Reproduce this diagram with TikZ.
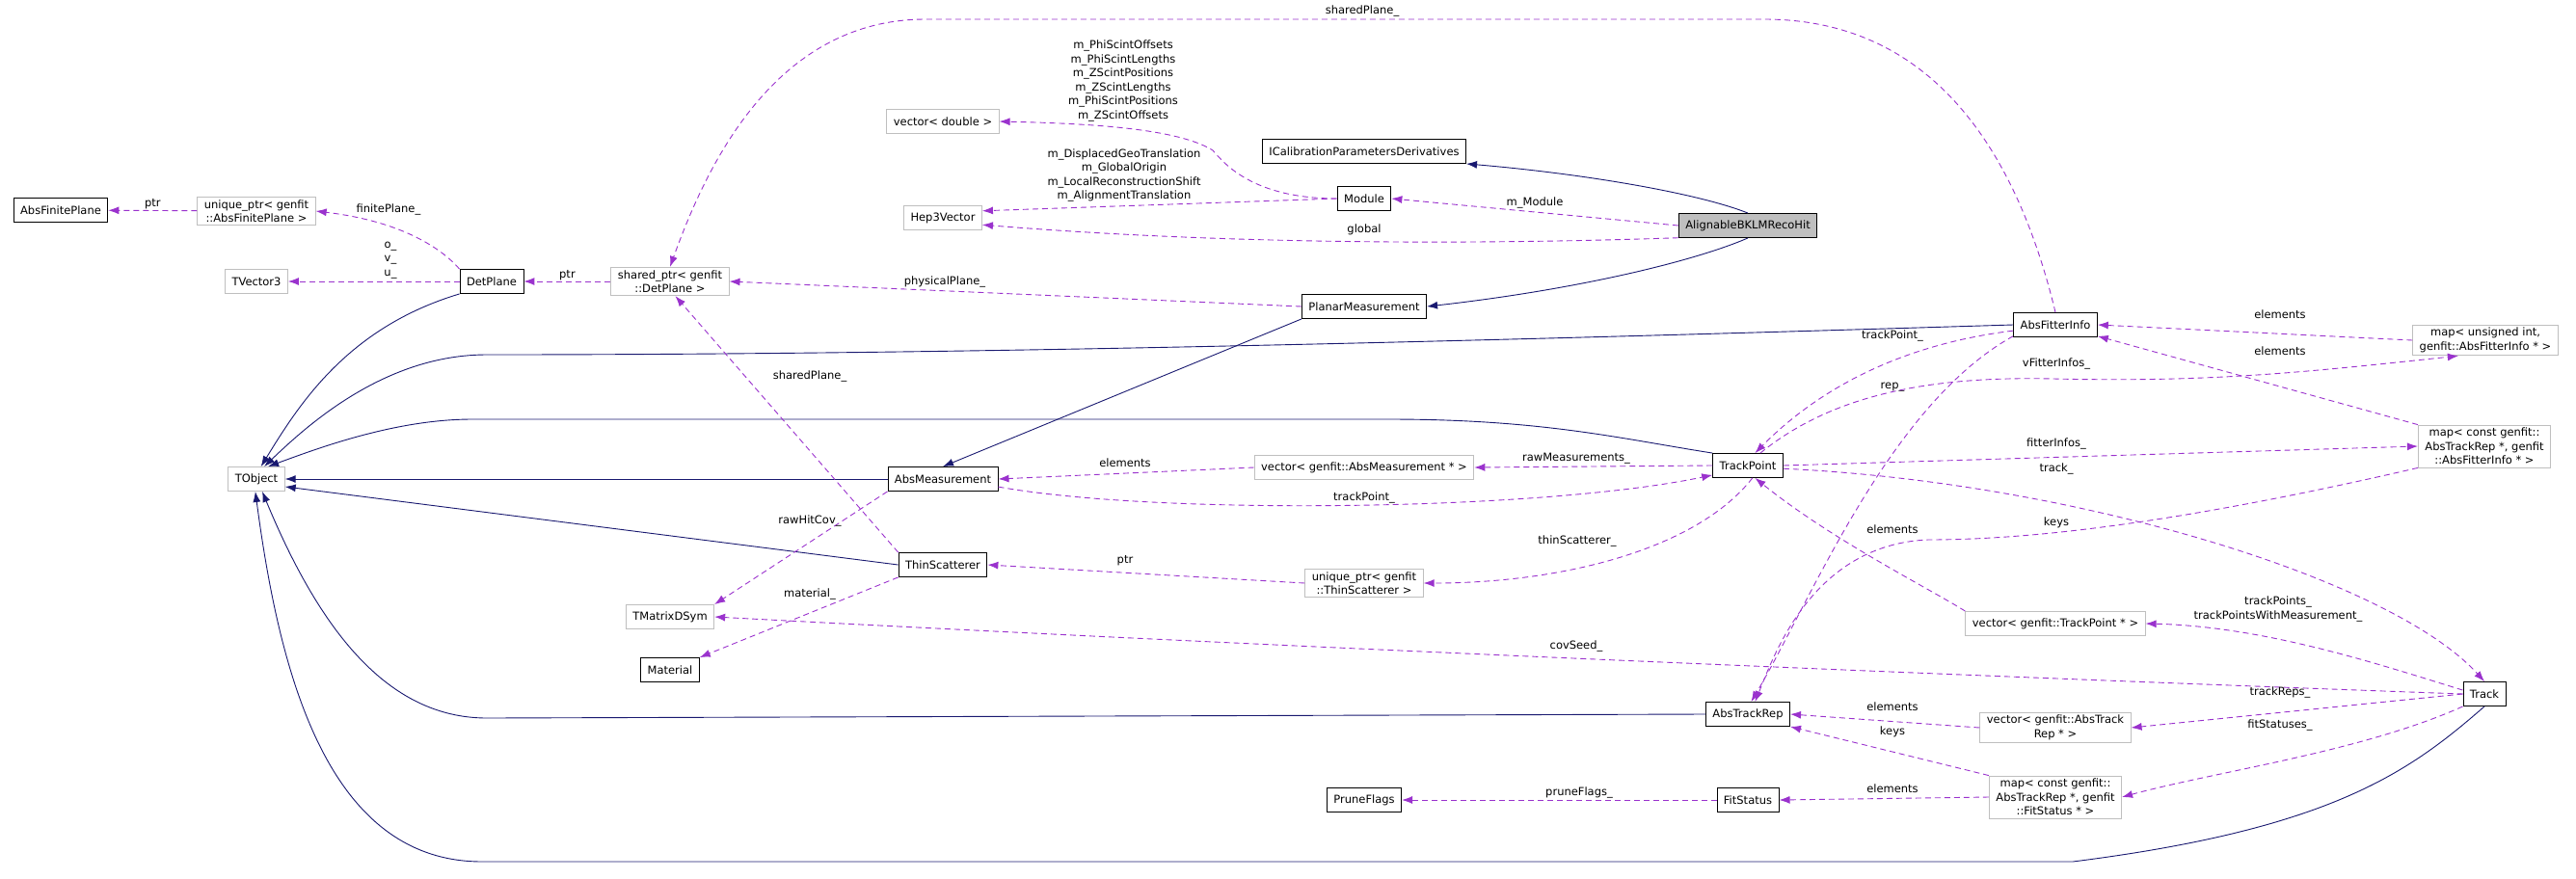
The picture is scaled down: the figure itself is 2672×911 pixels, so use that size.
\documentclass[tikz,border=0pt]{standalone}
\usepackage{fontspec}
\setmainfont{DejaVu Sans}
\usepackage{xcolor}
\usetikzlibrary{arrows.meta, positioning}
\definecolor{inhblue}{RGB}{25,25,112}
\definecolor{usepurple}{RGB}{154,50,205}
\definecolor{extgray}{RGB}{191,191,191}
\tikzset{
	cls/.style={draw=black, fill=white, line width=0.9pt, inner xsep=7pt, inner ysep=3pt, minimum height=25pt, align=center, font=\fontsize{11.5}{14.5}\selectfont},
	ext/.style={cls, draw=extgray},
	hl/.style={cls, fill=extgray},
	inh/.style={draw=inhblue, line width=0.9pt, -{Latex[length=11pt,width=8pt]}},
	use/.style={draw=usepurple, line width=0.9pt, dash pattern=on 6pt off 4pt, -{Latex[length=11pt,width=8pt]}},
	lbl/.style={inner sep=0pt, align=center, font=\fontsize{11.5}{14.5}\selectfont}
}
\begin{document}
\begin{tikzpicture}[x=1pt, y=-1pt]
	\useasboundingbox (0,0) rectangle (2672,911);
	% Klassen links
	\node[cls] (absfinite) at (63,218)   {AbsFinitePlane};
	\node[ext] (uqfinite)  at (266,219)  {unique\_ptr< genfit\\::AbsFinitePlane >};
	\node[ext] (tvector)   at (266,292)  {TVector3};
	\node[cls] (detplane)  at (510,292)  {DetPlane};
	\node[ext] (shplane)   at (695,292)  {shared\_ptr< genfit\\::DetPlane >};
	\node[ext] (tobject)   at (266,497)  {TObject};
	\node[ext] (tmatrix)   at (695,640)  {TMatrixDSym};
	\node[cls] (material)  at (695,695)  {Material};
	% Klassen Mitte
	\node[ext] (vecdouble) at (978,126)  {vector< double >};
	\node[ext] (hepvec)    at (978,226)  {Hep3Vector};
	\node[cls] (absmeas)   at (978,497)  {AbsMeasurement};
	\node[cls] (thinscat)  at (978,586)  {ThinScatterer};
	\node[cls] (ical)      at (1415,157) {ICalibrationParametersDerivatives};
	\node[cls] (module)    at (1415,206) {Module};
	\node[cls] (planar)    at (1415,318) {PlanarMeasurement};
	\node[ext] (vecmeas)   at (1415,485) {vector< genfit::AbsMeasurement * >};
	\node[ext] (uqthin)    at (1415,605) {unique\_ptr< genfit\\::ThinScatterer >};
	\node[cls] (prune)     at (1415,830) {PruneFlags};
	% Klassen rechts
	\node[hl]  (align)     at (1813,234) {AlignableBKLMRecoHit};
	\node[cls] (trackpt)   at (1813,483) {TrackPoint};
	\node[cls] (absrep)    at (1813,741) {AbsTrackRep};
	\node[cls] (fitstat)   at (1813,830) {FitStatus};
	\node[cls] (absfit)    at (2132,337) {AbsFitterInfo};
	\node[ext] (vectp)     at (2132,647) {vector< genfit::TrackPoint * >};
	\node[ext] (vecrep)    at (2132,755) {vector< genfit::AbsTrack\\Rep * >};
	\node[ext] (mapstat)   at (2132,827) {map< const genfit::\\AbsTrackRep *, genfit\\::FitStatus * >};
	\node[ext] (mapuint)   at (2578,353) {map< unsigned int,\\genfit::AbsFitterInfo * >};
	\node[ext] (mapfit)    at (2577,463) {map< const genfit::\\AbsTrackRep *, genfit\\::AbsFitterInfo * >};
	\node[cls] (track)     at (2577,720) {Track};

	% Vererbung
	\draw[inh] (align.north) .. controls (1760,200) and (1640,180) .. (ical.south east);
	\draw[inh] (align.south) .. controls (1760,270) and (1640,300) .. (planar.east);
	\draw[inh] (planar.south west) -- (absmeas.north);
	\draw[inh] (absmeas) -- (tobject);
	\draw[inh] (detplane.south west) .. controls (360,340) and (310,420) .. (tobject.70);
	\draw[inh] (absfit.west) .. controls (1500,355) and (1000,368) .. (505,368)
		.. controls (400,368) and (320,440) .. (tobject.58);
	\draw[inh] (trackpt.north west) .. controls (1680,455) and (1600,435) .. (1440,435)
		-- (490,435) .. controls (410,435) and (330,465) .. (tobject.47);
	\draw[inh] (thinscat.west) -- (tobject.-15);
	\draw[inh] (absrep.west) -- (505,745) .. controls (400,745) and (330,650) .. (tobject.-65);
	\draw[inh] (track.south) .. controls (2500,800) and (2420,860) .. (2150,894)
		-- (500,894) .. controls (340,894) and (290,700) .. (tobject.-95);

	% Verweise
	\draw[use] (align.west) -- (module.east) node[lbl, pos=0.5, above=3pt] (l-module) {m\_Module};
	\draw[use] (align.-170) .. controls (1500,255) and (1250,252) .. (hepvec.-10);
	\node[lbl] (l-global) at (1415,238) {global};
	\draw[use] (module.west) -- (hepvec.10);
	\node[lbl] (l-hepvec) at (1166,182) {m\_DisplacedGeoTranslation\\m\_GlobalOrigin\\m\_LocalReconstructionShift\\m\_AlignmentTranslation};
	\draw[use] (module.west) .. controls (1300,206) and (1270,170) .. (1258,156)
		.. controls (1220,132) and (1120,128) .. (vecdouble.east);
	\node[lbl] (l-vecdouble) at (1165,84) {m\_PhiScintOffsets\\m\_PhiScintLengths\\m\_ZScintPositions\\m\_ZScintLengths\\m\_PhiScintPositions\\m\_ZScintOffsets};
	\draw[use] (planar.west) -- (shplane.east);
	\node[lbl] (l-physical) at (980,292) {physicalPlane\_};
	\draw[use] (absfit.north) .. controls (2090,150) and (2000,20) .. (1830,20)
		-- (960,20) .. controls (800,20) and (730,180) .. (shplane.north);
	\node[lbl] (l-shared1) at (1413,11) {sharedPlane\_};
	\draw[use] (thinscat.north west) -- (shplane.-70);
	\node[lbl] (l-shared2) at (840,390) {sharedPlane\_};
	\draw[use] (shplane) -- (detplane) node[lbl, pos=0.5, above=1pt] (l-ptr1) {ptr};
	\draw[use] (detplane) -- (tvector);
	\node[lbl] (l-ovu) at (405,270) {o\_\\v\_\\u\_};
	\draw[use] (detplane.north west) .. controls (460,260) and (420,230) .. (uqfinite.east);
	\node[lbl] (l-finite) at (403,217) {finitePlane\_};
	\draw[use] (uqfinite) -- (absfinite) node[lbl, pos=0.5, above=1pt] (l-ptr2) {ptr};
	\draw[use] (absmeas.south west) -- (tmatrix.north east);
	\node[lbl] (l-rawhit) at (840,540) {rawHitCov\_};
	\draw[use] (thinscat.south west) -- (material.north east);
	\node[lbl] (l-material) at (840,616) {material\_};
	\draw[use] (track.west) .. controls (2000,700) and (1300,670) .. (tmatrix.east);
	\node[lbl] (l-covseed) at (1635,670) {covSeed\_};
	\draw[use] (vecmeas.west) -- (absmeas.east);
	\node[lbl] (l-elem1) at (1167,480) {elements};
	\draw[use] (trackpt.west) -- (vecmeas.east);
	\node[lbl] (l-rawmeas) at (1635,476) {rawMeasurements\_};
	\draw[use] (absmeas.-8) .. controls (1200,535) and (1600,530) .. (trackpt.-165);
	\node[lbl] (l-trackpt1) at (1415,516) {trackPoint\_};
	\draw[use] (trackpt.-70) .. controls (1760,570) and (1620,605) .. (uqthin.east);
	\node[lbl] (l-thin) at (1636,561) {thinScatterer\_};
	\draw[use] (uqthin.west) -- (thinscat.east);
	\node[lbl] (l-ptr3) at (1167,582) {ptr};
	\draw[use] (fitstat) -- (prune);
	\node[lbl] (l-prune) at (1638,822) {pruneFlags\_};
	\draw[use] (absfit.-172) .. controls (1950,360) and (1870,420) .. (trackpt.60);
	\node[lbl] (l-trackpt2) at (1963,348) {trackPoint\_};
	\draw[use] (absfit.-165) .. controls (1960,420) and (1880,620) .. (absrep.75);
	\node[lbl] (l-rep) at (1963,402) {rep\_};
	\draw[use] (mapuint.west) -- (absfit.east);
	\node[lbl] (l-elem2) at (2365,326) {elements};
	\draw[use] (mapfit.north west) -- (absfit.-15);
	\node[lbl] (l-elem3) at (2365,364) {elements};
	\draw[use] (trackpt.45) .. controls (1900,410) and (2000,390) .. (2130,393)
		.. controls (2300,397) and (2400,385) .. (mapuint.-150);
	\node[lbl] (l-vfit) at (2133,377) {vFitterInfos\_};
	\draw[use] (trackpt.east) -- (mapfit.west);
	\node[lbl] (l-fitinfo) at (2133,460) {fitterInfos\_};
	\draw[use] (trackpt.-5) .. controls (2150,500) and (2480,600) .. (track.north);
	\node[lbl] (l-track) at (2133,486) {track\_};
	\draw[use] (mapfit.south west) .. controls (2250,545) and (2100,560) .. (2000,560)
		.. controls (1880,565) and (1840,680) .. (absrep.60);
	\node[lbl] (l-keys1) at (2133,542) {keys};
	\draw[use] (vectp.north west) .. controls (2000,610) and (1900,560) .. (trackpt.-60);
	\node[lbl] (l-elem4) at (1963,549) {elements};
	\draw[use] (track.170) .. controls (2470,690) and (2350,650) .. (vectp.east);
	\node[lbl] (l-trackpts) at (2363,632) {trackPoints\_\\trackPointsWithMeasurement\_};
	\draw[use] (track.west) -- (vecrep.east);
	\node[lbl] (l-reps) at (2365,718) {trackReps\_};
	\draw[use] (track.-150) .. controls (2450,780) and (2300,800) .. (mapstat.east);
	\node[lbl] (l-statuses) at (2365,752) {fitStatuses\_};
	\draw[use] (vecrep.west) -- (absrep.east);
	\node[lbl] (l-elem5) at (1963,733) {elements};
	\draw[use] (mapstat.north west) -- (absrep.south east);
	\node[lbl] (l-keys2) at (1963,759) {keys};
	\draw[use] (mapstat.west) -- (fitstat.east);
	\node[lbl] (l-elem6) at (1963,818) {elements};
\end{tikzpicture}
\end{document}
